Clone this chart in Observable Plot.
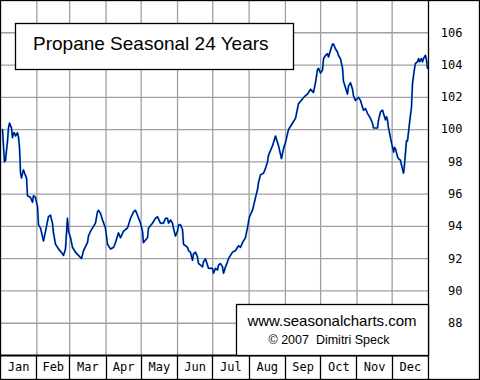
<!DOCTYPE html>
<html><head><meta charset="utf-8">
<script src="https://cdn.jsdelivr.net/npm/d3@7"></script>
<script src="https://cdn.jsdelivr.net/npm/@observablehq/plot@0.6"></script>
<style>body{margin:0;background:#fff} #chart svg{display:block}</style>
</head><body><div id="chart"></div>
<script>
// Day of year (0..365) and seasonal index values
const days = [1.7,2.6,3.4,4.3,5.1,6.0,6.8,7.7,9.4,10.2,11.1,11.9,12.8,14.5,15.4,16.2,17.1,17.9,18.8,19.6,20.5,22.2,23.0,25.6,27.3,28.1,29.8,31.6,32.4,34.1,36.7,38.4,40.9,42.6,44.3,45.2,46.9,49.5,52.9,53.7,55.4,57.1,58.0,59.7,61.4,64.0,66.5,69.1,70.8,74.2,75.0,76.8,78.5,81.0,82.7,83.6,85.3,87.0,89.5,91.2,93.8,96.4,98.1,100.6,102.3,104.9,108.3,110.9,113.4,115.1,116.8,119.4,121.1,121.9,125.4,126.2,129.6,132.2,133.9,136.4,139.0,140.7,142.4,143.3,145.0,146.7,147.5,149.2,150.9,151.8,153.5,155.2,156.1,157.8,159.5,160.3,162.0,163.7,164.6,166.3,168.0,168.9,170.6,172.3,173.1,174.8,176.5,177.4,180.8,181.6,183.4,185.1,185.9,187.6,189.3,190.2,191.9,193.6,194.4,196.1,197.8,200.4,202.1,203.0,204.7,206.4,207.2,208.9,210.6,212.3,214.9,217.5,219.2,220.0,221.7,224.3,226.0,227.7,228.5,232.0,234.5,237.1,239.6,241.3,243.0,245.6,249.0,251.6,254.1,257.5,260.1,261.8,264.4,266.9,268.6,270.3,271.2,272.9,274.6,275.5,277.2,278.9,279.7,281.4,283.1,284.0,285.7,287.4,288.2,289.9,291.7,292.5,294.2,295.9,296.8,298.5,300.2,301.0,302.7,305.3,307.0,308.7,309.6,311.3,313.0,315.5,317.2,318.1,321.5,322.4,324.1,325.8,326.6,328.3,329.2,330.0,330.9,332.6,334.3,335.2,336.0,336.9,338.6,339.4,341.1,342.0,343.7,344.5,346.2,347.1,348.8,350.5,351.4,353.1,353.9,355.6,356.5,357.3,359.0,359.9,360.7,362.4,363.3,364.1];
const values = [100.0,98.9,98.0,98.1,98.7,99.3,100.1,100.4,100.1,99.5,99.8,99.8,99.6,99.8,99.5,98.9,97.3,97.0,97.3,97.5,97.3,97.0,95.9,95.8,95.5,95.9,95.8,95.2,94.1,93.9,93.1,93.7,94.6,94.7,94.2,93.6,92.9,92.6,92.3,92.2,92.6,94.5,93.7,93.3,92.7,92.4,92.2,92.0,92.5,93.0,93.4,93.7,93.9,94.2,94.9,95.0,94.8,94.4,93.9,92.9,92.6,92.7,93.0,93.6,93.3,93.7,93.9,94.5,94.9,95.0,94.7,94.2,93.7,93.0,93.3,93.9,94.2,94.5,94.6,94.2,94.2,94.5,94.5,94.2,94.4,94.2,93.9,93.4,93.7,94.1,94.1,93.8,92.9,92.8,92.7,92.5,92.4,91.9,92.3,92.4,92.1,91.7,91.6,91.5,91.8,92.0,91.6,91.4,91.4,91.1,91.4,91.3,91.6,91.7,91.5,91.1,91.5,91.8,92.0,92.2,92.4,92.5,92.7,92.8,92.7,93.0,93.1,93.3,93.9,94.6,95.0,95.8,96.3,96.7,97.2,97.3,97.6,98.0,98.4,99.0,99.6,99.0,98.2,98.8,99.2,100.0,100.4,100.7,101.6,101.9,102.1,102.2,102.5,102.3,102.9,103.7,103.8,103.5,103.7,104.4,104.6,104.7,104.5,104.9,105.3,105.3,105.0,104.8,104.6,104.4,103.8,103.0,102.6,102.2,102.7,102.9,102.5,102.1,101.8,102.0,101.8,101.4,101.2,101.3,101.0,100.7,100.4,100.1,100.1,100.6,101.1,101.2,101.0,100.6,100.8,100.6,100.1,99.5,98.9,98.6,98.9,98.8,98.3,98.2,98.1,97.8,97.3,97.8,99.3,99.3,100.4,101.4,102.9,103.8,104.1,104.2,104.4,104.2,104.4,104.2,104.4,104.6,104.3,103.8];
const monthNames = ["Jan","Feb","Mar","Apr","May","Jun","Jul","Aug","Sep","Oct","Nov","Dec"];
const monthStarts = [0,31,59,90,120,151,181,212,243,273,304,334,365];
const yTicks = [88,90,92,94,96,98,100,102,104,106];
const titleText = "Propane Seasonal 24 Years";
const creditLines = ["www.seasonalcharts.com", "\u00a9 2007  Dimitri Speck"];

const data = days.map((d, i) => ({day: d, value: values[i]}));
const monthMids = monthNames.map((m, i) => (monthStarts[i] + monthStarts[i + 1]) / 2);

const plot = Plot.plot({
  width: 480, height: 380,
  marginLeft: 0, marginRight: 52, marginTop: 0, marginBottom: 25,
  style: {background: "#fff", fontFamily: "'DejaVu Sans Mono', monospace", fontSize: "12px", color: "#000"},
  x: {domain: [0, 365], label: null},
  y: {domain: [86, 108], label: null},
  marks: [
    Plot.ruleX(monthStarts.slice(1, 12), {stroke: "#a0a0a0", strokeWidth: 1.3}),
    Plot.ruleY(yTicks, {stroke: "#a0a0a0", strokeWidth: 1.3}),
    Plot.line(data, {x: "day", y: "value", stroke: "#33b8d0", strokeWidth: 2}),
    Plot.line(data, {x: "day", y: "value", stroke: "#000090", strokeWidth: 1.2}),
    Plot.axisY({anchor: "right", ticks: yTicks, tickSize: 0, tickPadding: 34, textAnchor: "end", fontSize: 12, label: null}),
    Plot.axisX({ticks: monthMids, tickFormat: d => monthNames[monthMids.indexOf(d)], tickSize: 0, tickPadding: 7, fontSize: 12, label: null})
  ]
});

const svg = d3.select(plot);
const xs = plot.scale("x");
const W = 480, H = 380, right = 480 - 52, bottom = 380 - 25;

// month row separators
monthStarts.slice(1, 12).forEach(m => {
  const x = Math.round(xs.apply(m)) + 0.5;
  svg.append("line").attr("x1", x).attr("x2", x).attr("y1", bottom).attr("y2", H)
    .attr("stroke", "#000").attr("stroke-width", 1.3);
});
svg.append("line").attr("x1", 0).attr("x2", right).attr("y1", bottom + 0.5).attr("y2", bottom + 0.5)
  .attr("stroke", "#000").attr("stroke-width", 2);
svg.append("line").attr("x1", right + 0.5).attr("x2", right + 0.5).attr("y1", 0).attr("y2", H)
  .attr("stroke", "#000").attr("stroke-width", 1.3);
svg.append("rect").attr("x", 0.5).attr("y", 0.5).attr("width", W - 1).attr("height", H - 1)
  .attr("fill", "none").attr("stroke", "#000").attr("stroke-width", 1.3);

// title box
svg.append("rect").attr("x", 15.5).attr("y", 23.5).attr("width", 278).attr("height", 46)
  .attr("fill", "#fff").attr("stroke", "#000").attr("stroke-width", 1.3);
svg.append("text").attr("x", 33).attr("y", 50).attr("text-anchor", "start").text(titleText)
  .attr("font-family", "'Liberation Sans', Arial, sans-serif").attr("font-size", 19).attr("fill", "#000");

// credit box
svg.append("rect").attr("x", 236.5).attr("y", 304.5).attr("width", right - 236).attr("height", bottom - 304)
  .attr("fill", "#fff").attr("stroke", "#000").attr("stroke-width", 1.3);
svg.append("text").attr("x", 332).attr("y", 326).attr("text-anchor", "middle").text(creditLines[0])
  .attr("font-family", "'Liberation Sans', Arial, sans-serif").attr("font-size", 15).attr("fill", "#000");
svg.append("text").attr("x", 329).attr("y", 343.5).attr("text-anchor", "middle").text(creditLines[1])
  .attr("font-family", "'Liberation Sans', Arial, sans-serif").attr("font-size", 12.5).attr("fill", "#000");

document.getElementById("chart").appendChild(plot);
</script>
</body></html>
